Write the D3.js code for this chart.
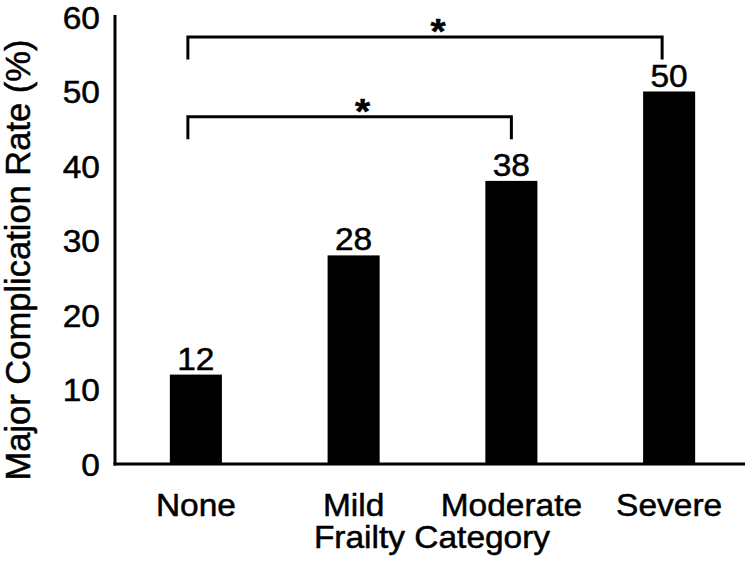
<!DOCTYPE html>
<html><head><meta charset="utf-8">
<script src="https://cdn.jsdelivr.net/npm/d3@7"></script>
<style>body{margin:0;background:#fff}svg{display:block}text{font-family:"Liberation Sans",Arial,sans-serif;fill:#000;stroke:#000;stroke-width:0.5px}</style>
</head><body>
<svg id="c" width="754" height="563"></svg>
<script>
const categories = ["None", "Mild", "Moderate", "Severe"];
const values = [12, 28, 38, 50];
const yTicks = [0, 10, 20, 30, 40, 50, 60];
const brackets = [
  {from: "None", to: "Moderate", level: 46.6, label: "*"},
  {from: "None", to: "Severe", level: 57.3, label: "*"}
];
const xTitle = "Frailty Category";
const yTitle = "Major Complication Rate (%)";

const svg = d3.select("#c");
const x0 = 115, x1 = 745, yBase = 464, yTop = 17;
const x = d3.scaleBand().domain(categories).range([x0 + 2, x1 + 3]).paddingInner(0.67).paddingOuter(0.335);
const y = d3.scaleLinear().domain([0, 60]).range([yBase, yTop]);
const fs = 31, sx = 1.08, FF = "Liberation Sans, Arial, sans-serif";

// y axis
const ya = svg.append("g").attr("transform", `translate(${x0},0)`)
  .call(d3.axisLeft(y).tickValues(yTicks).tickSize(0).tickPadding(14));
ya.select(".domain").attr("stroke", "#000").attr("stroke-width", 3).attr("d", `M0,${yBase + 1.5}V${yTop - 2}`);
ya.selectAll("text").attr("font-size", fs).attr("font-family", FF).attr("dy", "0.36em")
  .attr("transform", `scale(${sx},1)`);

// bars
svg.append("g").selectAll("rect").data(categories).join("rect")
  .attr("x", d => x(d)).attr("width", x.bandwidth())
  .attr("y", (d, i) => y(values[i])).attr("height", (d, i) => yBase - y(values[i]))
  .attr("fill", "#000");

// x axis
const xa = svg.append("g").attr("transform", `translate(0,${yBase})`)
  .call(d3.axisBottom(x).tickSize(0).tickPadding(30));
xa.select(".domain").attr("stroke", "#000").attr("stroke-width", 3).attr("d", `M${x0 - 1.5},0H${x1}`);
xa.selectAll("text").attr("font-size", fs).attr("font-family", FF).attr("dy", "0.71em")
  .attr("transform", `scale(${sx},1)`).attr("x", 0);

// value labels
svg.append("g").selectAll("text").data(categories).join("text")
  .attr("transform", (d, i) => `translate(${x(d) + x.bandwidth() / 2},${y(values[i]) - 5}) scale(${sx},1)`)
  .attr("text-anchor", "middle").attr("font-size", fs).text((d, i) => values[i]);

// brackets
const bg = svg.append("g");
brackets.forEach(b => {
  const xl = x(b.from) + x.bandwidth() / 2 - 8;
  const xr = x(b.to) + x.bandwidth() / 2 - (b.to === "Severe" ? 7 : 0);
  const yl = y(b.level), yd = y(b.level - 3);
  bg.append("path").attr("d", `M${xl},${yd}V${yl}H${xr}V${yd}`)
    .attr("fill", "none").attr("stroke", "#000").attr("stroke-width", 3);
  bg.append("text").attr("transform", `translate(${(xl + xr) / 2 + 13},${yl + 6}) scale(${sx},1)`)
    .attr("text-anchor", "middle").attr("font-size", 36).attr("font-weight", "bold").text(b.label);
});

// titles
svg.append("text").attr("transform", `translate(${(x0 + x1) / 2 + 2},548) scale(${sx},1)`).attr("text-anchor", "middle")
  .attr("font-size", fs).text(xTitle);
svg.append("text").attr("transform", `translate(30,260) rotate(-90)`)
  .attr("text-anchor", "middle").attr("font-size", 34.5).text(yTitle);
</script>
</body></html>
